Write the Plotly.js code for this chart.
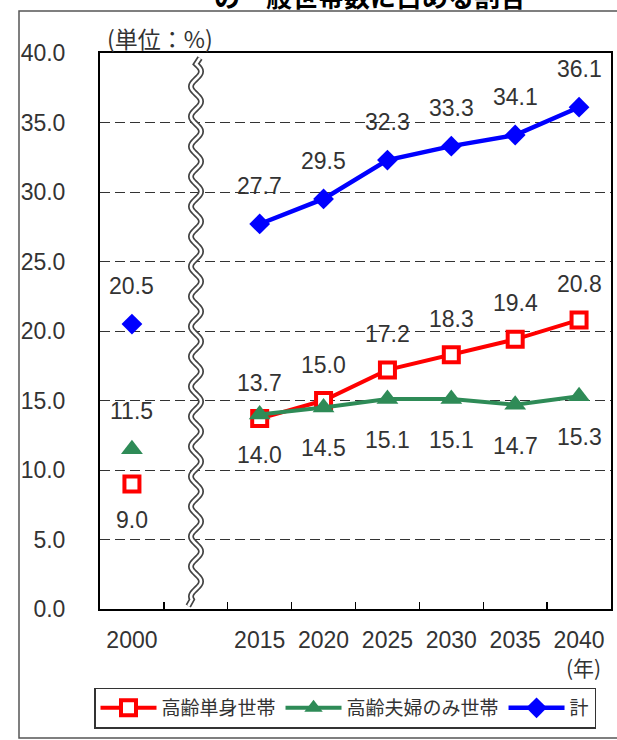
<!DOCTYPE html>
<html><head><meta charset="utf-8">
<script src="https://cdn.plot.ly/plotly-3.0.1.min.js"></script>
<style>html,body{margin:0;padding:0;background:#fff}#chart{width:617px;height:740px}</style>
</head><body><div id="chart"></div>
<script>
// ---- data ----
const categories = ["2000", "\u3000", "2015", "2020", "2025", "2030", "2035", "2040"];
const singleHH = [9.0, null, 13.7, 15.0, 17.2, 18.3, 19.4, 20.8];   // 高齢単身世帯
const coupleHH = [11.5, null, 14.0, 14.5, 15.1, 15.1, 14.7, 15.3];  // 高齢夫婦のみ世帯
const totalHH  = [20.5, null, 27.7, 29.5, 32.3, 33.3, 34.1, 36.1];  // 計
const seriesNames = ["高齢単身世帯", "高齢夫婦のみ世帯", "計"];
const yTickVals = [0, 5, 10, 15, 20, 25, 30, 35, 40];
const titleText = "の一般世帯数に占める割合";
const unitText = "(単位：%)";
const yearText = "(年)";

// ---- geometry helpers (pixel -> paper) ----
const W = 617, H = 740, L = 100, R = 6, T = 53, B = 131;
const PW = W - L - R, PH = H - T - B;
const px2x = p => (p - L) / PW;
const py2y = p => (H - B - p) / PH;

const numFont = "Liberation Sans, Arial, Noto Sans CJK JP, sans-serif";
const cjkFont = "Noto Sans CJK JP, sans-serif";
const txtColor = "#333";

const red = "#FF0000", green = "#2E8B57", blue = "#0000FF";

const traces = [
  {x: categories, y: singleHH, name: seriesNames[0], type: "scatter", mode: "lines+markers",
   line: {color: red, width: 4}, connectgaps: false,
   marker: {symbol: "square", size: 15, color: "#fff", line: {color: red, width: 4}}},
  {x: categories, y: coupleHH, name: seriesNames[1], type: "scatter", mode: "lines+markers",
   line: {color: green, width: 4}, connectgaps: false,
   marker: {symbol: "triangle-up", size: 19, color: green, line: {width: 0}}},
  {x: categories, y: totalHH, name: seriesNames[2], type: "scatter", mode: "lines+markers",
   line: {color: blue, width: 4.5}, connectgaps: false,
   marker: {symbol: "diamond", size: 16, color: blue, line: {width: 0}}}
];

// data labels built from the arrays (x given as category index)
const annotations = [];
function addLabels(vals, shiftFn) {
  vals.forEach((v, i) => {
    if (v === null) return;
    annotations.push({x: i, y: v, xref: "x", yref: "y", text: v.toFixed(1),
      showarrow: false, yshift: shiftFn(i), font: {family: numFont, size: 23, color: txtColor}});
  });
}
addLabels(singleHH, i => i === 0 ? -36 : 36);
addLabels(coupleHH, i => i === 0 ? 38 : -41);
addLabels(totalHH, i => 38);

annotations.push({xref: "paper", yref: "paper", x: px2x(370), y: py2y(-4), text: "<b>" + titleText + "</b>",
  showarrow: false, xanchor: "center", yanchor: "middle", font: {family: cjkFont, size: 26, color: "#000"}});
annotations.push({xref: "paper", yref: "paper", x: px2x(105), y: py2y(38), text: unitText,
  showarrow: false, xanchor: "left", yanchor: "middle", font: {family: cjkFont, size: 23, color: txtColor}});
annotations.push({xref: "paper", yref: "paper", x: px2x(603), y: py2y(667), text: yearText,
  showarrow: false, xanchor: "right", yanchor: "middle", font: {family: cjkFont, size: 21, color: txtColor}});

// wavy break line
function wavePath() {
  const xc = 196, amp = 5, period = 30, y0 = 64, y1 = 600;
  let d = "M" + px2x(xc + 4) + "," + py2y(y0 - 6) + " L" + px2x(xc) + "," + py2y(y0);
  for (let y = y0; y <= y1; y += 1.5) {
    const x = xc + amp * Math.sin((y - y0) / period * 2 * Math.PI);
    d += " L" + px2x(x) + "," + py2y(y);
  }
  const xe = xc + amp * Math.sin((y1 - y0) / period * 2 * Math.PI);
  d += " L" + px2x(xe - 4) + "," + py2y(y1 + 6);
  return d;
}
const wp = wavePath();
const shapes = [
  {type: "path", xref: "paper", yref: "paper", path: wp, line: {color: "#444", width: 6}, layer: "above"},
  {type: "path", xref: "paper", yref: "paper", path: wp, line: {color: "#fff", width: 2.6}, layer: "above"},
  // outer frame
  {type: "rect", xref: "paper", yref: "paper", x0: px2x(19), x1: px2x(625), y0: py2y(738), y1: py2y(11),
   line: {color: "#555", width: 1.5}, layer: "below"}
];

const layout = {
  width: W, height: H,
  margin: {l: L, r: R, t: T, b: B, pad: 0},
  paper_bgcolor: "#fff", plot_bgcolor: "#fff",
  showlegend: true,
  xaxis: {type: "category", categoryorder: "array", categoryarray: categories,
    range: [-0.5, categories.length - 0.5],
    showline: true, mirror: true, linecolor: "#000", linewidth: 2,
    ticks: "inside", tickson: "boundaries", ticklen: 7, tickwidth: 1.3, tickcolor: "#000",
    showgrid: false, zeroline: false, ticklabelstandoff: 9,
    tickfont: {family: numFont, size: 23, color: txtColor}},
  yaxis: {range: [0, 40], tickvals: yTickVals, tickformat: ".1f",
    showline: true, mirror: true, linecolor: "#000", linewidth: 2,
    ticks: "", showgrid: true, gridcolor: "#333", gridwidth: 1, griddash: "10px,5px",
    zeroline: false, ticklabelstandoff: 28,
    tickfont: {family: numFont, size: 23, color: txtColor}},
  legend: {orientation: "h", x: px2x(345), xanchor: "center", y: py2y(708), yanchor: "middle",
    bordercolor: "#333", borderwidth: 1.5, bgcolor: "#fff", itemwidth: 56,
    font: {family: cjkFont, size: 19, color: txtColor}},
  annotations: annotations,
  shapes: shapes
};

Plotly.newPlot("chart", traces, layout, {displayModeBar: false, staticPlot: true});
</script></body></html>
